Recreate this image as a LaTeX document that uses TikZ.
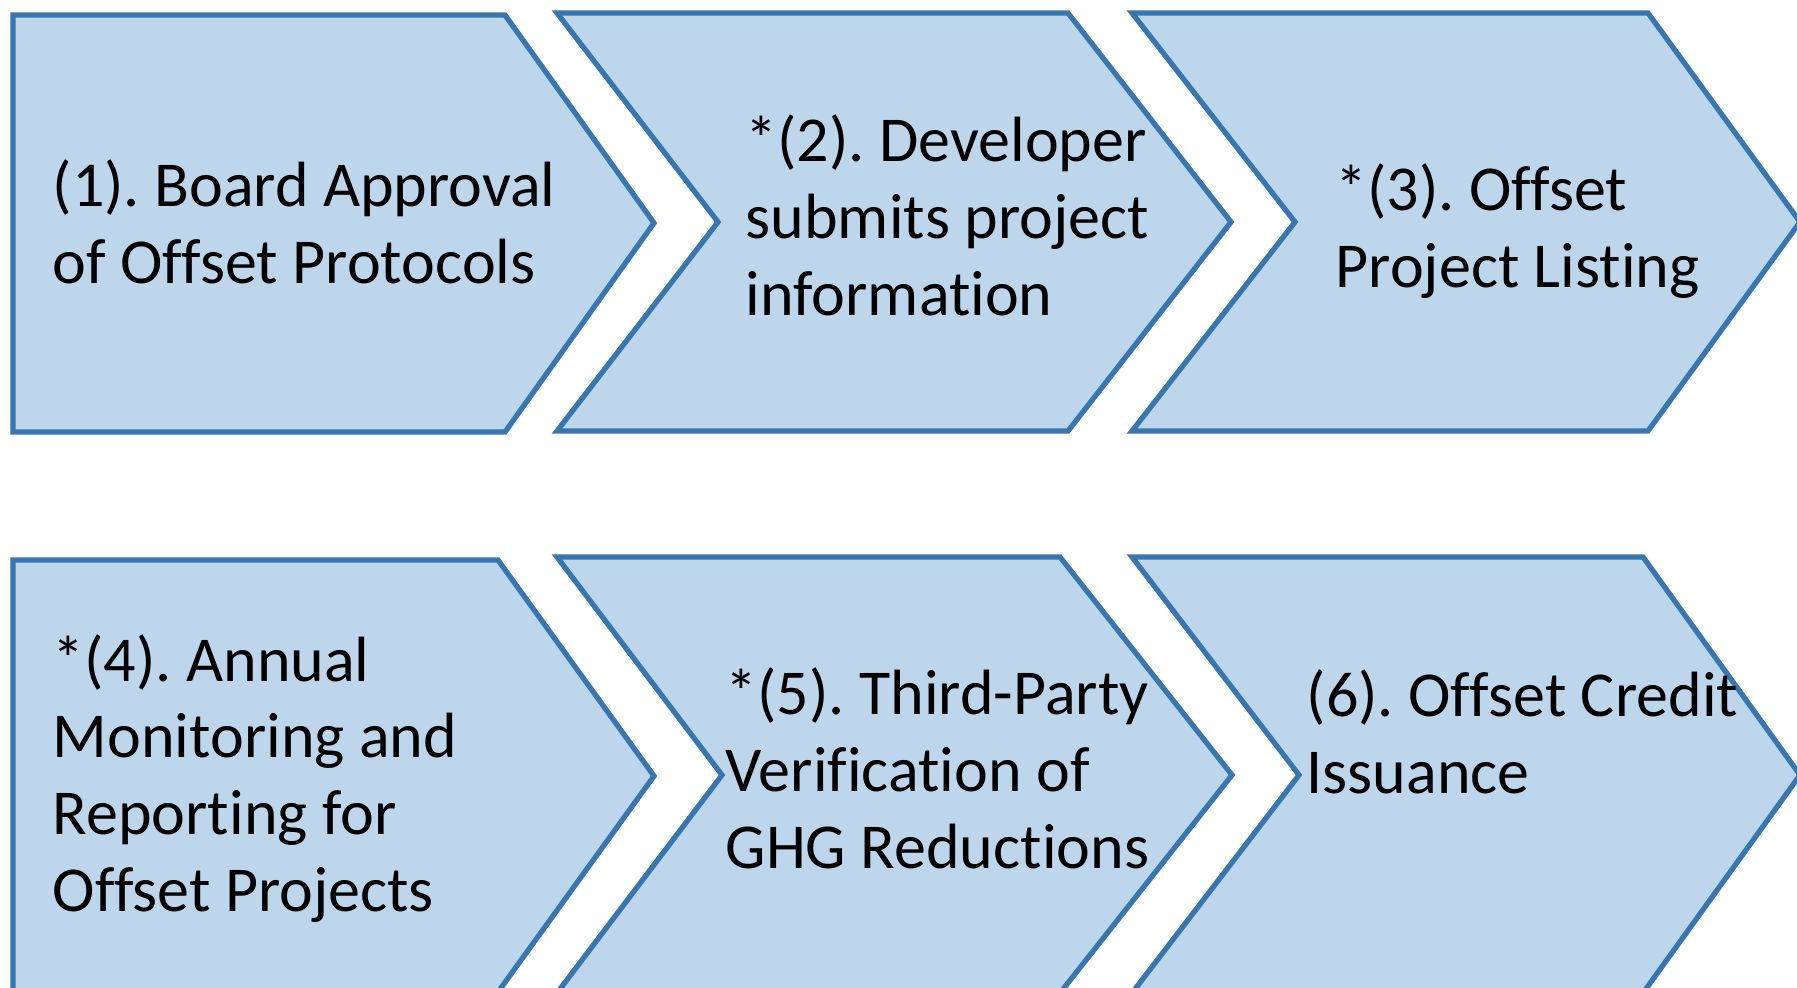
\documentclass[tikz,border=0pt]{standalone}
\usepackage{fontspec}
\setmainfont{Carlito}[Ligatures=NoCommon]
\usetikzlibrary{positioning}
\definecolor{chevfill}{RGB}{190,214,236}
\definecolor{chevline}{RGB}{56,118,178}
\frenchspacing

\begin{document}
\begin{tikzpicture}[x=0.01cm, y=-0.01cm,
	chev/.style={draw=chevline, fill=chevfill, line width=1.5pt, line join=miter},
	steptext/.style={anchor=base west, inner sep=0pt, align=left,
		font=\fontsize{18.2}{21.8}\selectfont}]
	\useasboundingbox (0,0) rectangle (1797,987);
	\clip (0,0) rectangle (1797,987);
	
	% upper row
	\draw[chev] (13,15) -- (505,15) -- (654,223) -- (505,432) -- (13,432) -- cycle;
	\draw[chev] (557,13) -- (1068,13) -- (1231,222) -- (1068,431) -- (557,431) -- (718,222) -- cycle;
	\draw[chev] (1132,13) -- (1648,13) -- (1800,222) -- (1648,431) -- (1132,431) -- (1295,222) -- cycle;
	
	% lower row
	\draw[chev] (13,560) -- (498,560) -- (654,776) -- (498,992) -- (13,992) -- cycle;
	\draw[chev] (557,557) -- (1060,557) -- (1232,775) -- (1060,993) -- (557,993) -- (722,775) -- cycle;
	\draw[chev] (1132,557) -- (1643,557) -- (1800,775) -- (1643,993) -- (1132,993) -- (1299,775) -- cycle;
	
	% texts, placed by the baseline of their last line
	\node[steptext] (p1) at (52,283) {(1). Board Approval\\of Offset Protocols};
	\node[steptext] (p2) at (745,315) {*(2). Developer\\submits project\\information};
	\node[steptext] (p3) at (1335,287) {*(3). Offset\\Project Listing};
	\node[steptext] (p4) at (52,911) {*(4). Annual\\Monitoring and\\Reporting for\\Offset Projects};
	\node[steptext] (p5) at (725,868) {*(5). Third-Party\\Verification of\\GHG Reductions};
	\node[steptext] (p6) at (1306,793) {(6). Offset Credit\\Issuance};
\end{tikzpicture}
\end{document}
